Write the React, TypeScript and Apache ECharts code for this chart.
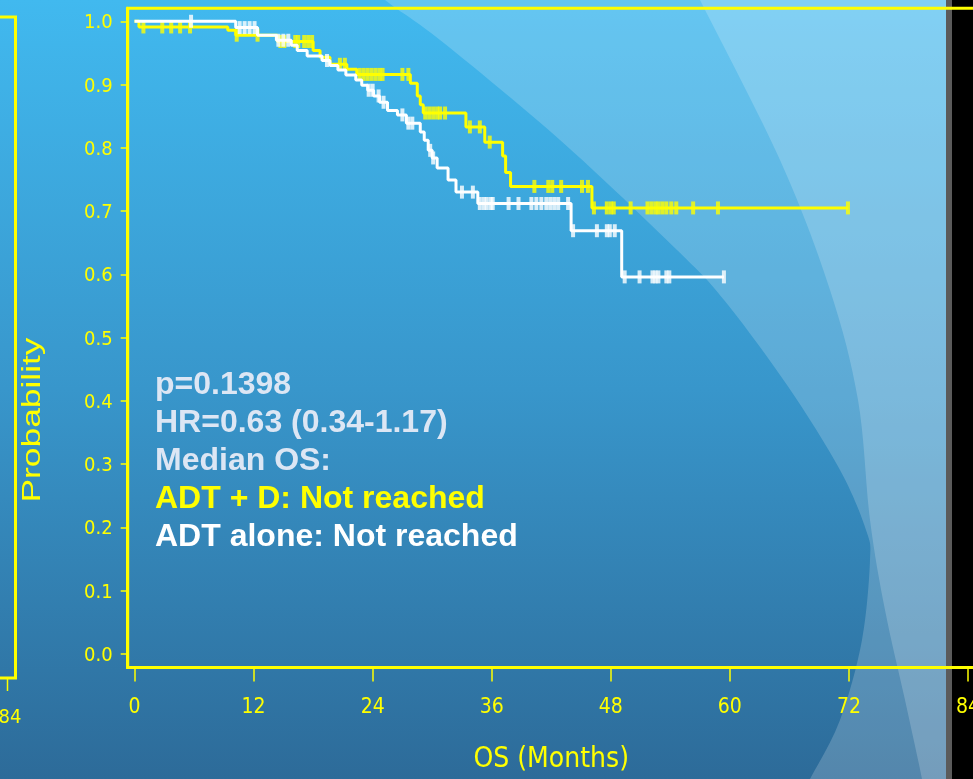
import React, { useEffect, useRef } from "react";
import * as echarts from "echarts";

// ---------- data ----------
const xTickValues = [0, 12, 24, 36, 48, 60, 72, 84];
const yTickValues = [0, 0.1, 0.2, 0.3, 0.4, 0.5, 0.6, 0.7, 0.8, 0.9, 1.0];

// ADT + D (yellow): event times (months) and survival after each step
const adtDTimes = [0, 0.45, 9.4, 10.2, 14.4, 18.0, 18.7, 19.7, 21.4, 22.4, 27.8, 28.5, 28.8, 29.1, 33.4, 35.3, 37.1, 37.4, 37.9, 46.1, 71.9];
const adtDSurv = [1.0, 0.991, 0.986, 0.978, 0.968, 0.954, 0.943, 0.932, 0.924, 0.916, 0.902, 0.882, 0.868, 0.855, 0.833, 0.809, 0.787, 0.761, 0.739, 0.705, 0.705];
const adtDCensor = [0.9, 2.8, 3.7, 4.6, 5.6, 10.3, 12.4, 14.7, 15.1, 16.2, 16.5, 17.1, 17.5, 17.9, 20.7, 21.2, 22.7, 23.1, 23.5, 23.9, 24.3, 24.7, 25.0, 27.0, 27.6, 29.3, 29.7, 30.1, 30.5, 30.8, 31.3, 33.8, 34.8, 35.8, 40.3, 41.7, 42.1, 43.0, 45.1, 45.7, 46.3, 47.6, 48.0, 48.3, 50.0, 51.7, 52.1, 52.5, 52.8, 53.2, 53.6, 54.1, 54.6, 56.3, 58.8, 71.9];

// ADT alone (white)
const adtTimes = [0, 10.2, 12.4, 14.3, 15.8, 16.4, 17.4, 18.9, 19.7, 20.5, 21.3, 22.3, 22.9, 23.5, 24.1, 24.7, 25.5, 26.5, 27.4, 28.8, 29.2, 29.6, 30.0, 30.5, 31.6, 32.4, 34.6, 44.0, 49.1, 59.4];
const adtSurv = [1.0, 0.99, 0.978, 0.97, 0.962, 0.954, 0.945, 0.938, 0.93, 0.923, 0.915, 0.907, 0.899, 0.891, 0.882, 0.872, 0.859, 0.852, 0.839, 0.825, 0.812, 0.796, 0.784, 0.768, 0.749, 0.73, 0.712, 0.669, 0.596, 0.596];
const adtCensor = [5.7, 10.6, 11.1, 11.6, 12.1, 14.5, 15.0, 15.5, 19.4, 23.6, 24.0, 24.6, 25.1, 27.0, 27.6, 28.0, 29.8, 30.1, 33.0, 34.1, 34.8, 35.2, 35.5, 35.9, 36.1, 37.7, 38.7, 40.0, 40.5, 41.0, 41.5, 41.9, 42.3, 42.7, 43.7, 44.2, 46.6, 47.6, 47.9, 48.4, 49.4, 50.9, 52.2, 52.5, 52.8, 53.6, 53.9, 59.4];

const annotationLines = ["p=0.1398", "HR=0.63 (0.34-1.17)", "Median OS:", "ADT + D: Not reached", "ADT alone: Not reached"];
const annotationColors = ["#DCE6F4", "#DCE6F4", "#DCE6F4", "#FFFF00", "#FFFFFF"];

// ---------- helpers ----------
const YELLOW = "#FFFF00";
const NARROW = '"Liberation Sans Narrow", "Arial Narrow", "DejaVu Sans Condensed", "Liberation Sans", sans-serif';
const SANS = '"Liberation Sans", Arial, Helvetica, sans-serif';

function stepValue(times: number[], surv: number[], t: number) {
  let s = surv[0];
  for (let i = 0; i < times.length; i++) if (times[i] <= t) s = surv[i];
  return s;
}

function smoothPath(pts: number[][]) {
  let d = `M${pts[0][0]},${pts[0][1]}`;
  for (let i = 0; i < pts.length - 1; i++) {
    const p0 = pts[i - 1] || pts[i];
    const p1 = pts[i];
    const p2 = pts[i + 1];
    const p3 = pts[i + 2] || p2;
    const c1x = p1[0] + (p2[0] - p0[0]) / 6;
    const c1y = p1[1] + (p2[1] - p0[1]) / 6;
    const c2x = p2[0] - (p3[0] - p1[0]) / 6;
    const c2y = p2[1] - (p3[1] - p1[1]) / 6;
    d += ` C${c1x},${c1y} ${c2x},${c2y} ${p2[0]},${p2[1]}`;
  }
  return d;
}

// decorative background curves (slide template)
const arcAPts = [[355, -30], [385, 0], [440, 40], [560, 140], [677, 250], [724, 300], [787, 385], [840, 470], [866, 530], [870, 560], [862, 640], [840, 720], [810, 779], [790, 815]];
const arcBPts = [[685, -30], [700, 0], [780, 160], [830, 290], [858, 400], [870, 520], [885, 610], [905, 700], [922, 779], [928, 815]];

let registered = false;
function registerShapes() {
  if (registered) return;
  registered = true;
  const dA = smoothPath(arcAPts) + " L980,815 L980,-30 Z";
  const dB = smoothPath(arcBPts) + " L980,815 L980,-30 Z";
  echarts.graphic.registerShape("bgArcA", echarts.graphic.extendPath(dA, {}));
  echarts.graphic.registerShape("bgArcB", echarts.graphic.extendPath(dB, {}));
}

export default function App() {
  const ref = useRef<HTMLDivElement>(null);

  useEffect(() => {
    if (!ref.current) return;
    registerShapes();
    const chart = echarts.init(ref.current, null, { renderer: "svg" });

    const lineD = adtDTimes.map((t, i) => [t, adtDSurv[i]]);
    const lineA = adtTimes.map((t, i) => [t, adtSurv[i]]);
    const censD = adtDCensor.map((t) => [t, stepValue(adtDTimes, adtDSurv, t)]);
    const censA = adtCensor.map((t) => [t, stepValue(adtTimes, adtSurv, t)]);

    const graphics: any[] = [
      {
        type: "rect", z: -20, silent: true,
        shape: { x: 0, y: 0, width: 973, height: 779 },
        style: {
          fill: new echarts.graphic.LinearGradient(0, 0, 0, 1, [
            { offset: 0, color: "#41B9EF" },
            { offset: 0.5, color: "#3896CB" },
            { offset: 1, color: "#2D6B99" },
          ]),
        },
      },
      { type: "bgArcA", x: 0, y: 0, z: -19, silent: true, style: { fill: "rgba(255,255,255,0.19)" } },
      { type: "bgArcB", x: 0, y: 0, z: -18, silent: true, style: { fill: "rgba(255,255,255,0.19)" } },
      { type: "rect", z: -17, silent: true, shape: { x: 946, y: 0, width: 6, height: 779 }, style: { fill: "#5B5B5B" } },
      { type: "rect", z: -17, silent: true, shape: { x: 952, y: 0, width: 30, height: 779 }, style: { fill: "#000000" } },
      // partial panel at the far left
      {
        type: "polyline", z: 5, silent: true,
        shape: { points: [[-5, 17], [15.5, 17], [15.5, 678], [-5, 678]] },
        style: { stroke: YELLOW, lineWidth: 3, fill: null },
      },
      { type: "line", z: 5, silent: true, shape: { x1: 7.5, y1: 679, x2: 7.5, y2: 691 }, style: { stroke: YELLOW, lineWidth: 1.5 } },
      {
        type: "text", z: 5, silent: true, x: 10, y: 716,
        style: { text: "84", fill: YELLOW, fontSize: 20, fontFamily: NARROW, align: "center", verticalAlign: "middle" },
      },
      {
        type: "text", z: 5, silent: true, x: 31, y: 420, rotation: Math.PI / 2, scaleX: 1.36,
        style: { text: "Probability", fill: YELLOW, fontSize: 26, fontFamily: SANS, align: "center", verticalAlign: "middle" },
      },
    ];
    annotationLines.forEach((txt, i) => {
      graphics.push({
        type: "text", z: 10, silent: true, x: 155, y: 383 + i * 38,
        style: { text: txt, fill: annotationColors[i], fontSize: 32, fontWeight: "bold", fontFamily: SANS, align: "left", verticalAlign: "middle" },
      });
    });

    chart.setOption({
      animation: false,
      graphic: graphics,
      grid: {
        left: 127.7, top: 8.3, right: -1.8, bottom: 111.5,
        outerBoundsMode: "none", containLabel: false,
        show: true, borderColor: YELLOW, borderWidth: 3, backgroundColor: "transparent",
      },
      xAxis: {
        type: "value", min: -0.685, max: 84.685,
        axisLine: { show: true, onZero: false, lineStyle: { color: YELLOW, width: 3 } },
        axisTick: { show: true, length: 14, customValues: xTickValues, lineStyle: { color: YELLOW, width: 1.5 } },
        axisLabel: { customValues: xTickValues, color: YELLOW, fontSize: 21, fontFamily: NARROW, margin: 28 },
        splitLine: { show: false },
        name: "OS (Months)", nameLocation: "middle", nameGap: 76,
        nameTextStyle: { color: YELLOW, fontSize: 28, fontFamily: NARROW },
      },
      yAxis: {
        type: "value", min: -0.0213, max: 1.0205,
        axisLine: { show: true, onZero: false, lineStyle: { color: YELLOW, width: 3 } },
        axisTick: { show: true, length: 7, customValues: yTickValues, lineStyle: { color: YELLOW, width: 1.5 } },
        axisLabel: { customValues: yTickValues, color: YELLOW, fontSize: 20, fontFamily: NARROW, margin: 15, formatter: (v: number) => v.toFixed(1) },
        splitLine: { show: false },
      },
      series: [
        {
          name: "ADT + D", type: "line", step: "end", data: lineD, showSymbol: false, z: 2,
          lineStyle: { color: YELLOW, width: 3 }, itemStyle: { color: YELLOW },
        },
        {
          name: "ADT + D censored", type: "scatter", data: censD, symbol: "rect", symbolSize: [4, 13], z: 3,
          itemStyle: { color: YELLOW },
        },
        {
          name: "ADT alone", type: "line", step: "end", data: lineA, showSymbol: false, z: 4,
          lineStyle: { color: "#FFFFFF", width: 3 }, itemStyle: { color: "#FFFFFF" },
        },
        {
          name: "ADT alone censored", type: "scatter", data: censA, symbol: "rect", symbolSize: [4, 13], z: 5,
          itemStyle: { color: "#FFFFFF" },
        },
      ],
    });

    return () => chart.dispose();
  }, []);

  return <div ref={ref} style={{ position: "fixed", left: 0, top: 0, width: 973, height: 779 }} />;
}
